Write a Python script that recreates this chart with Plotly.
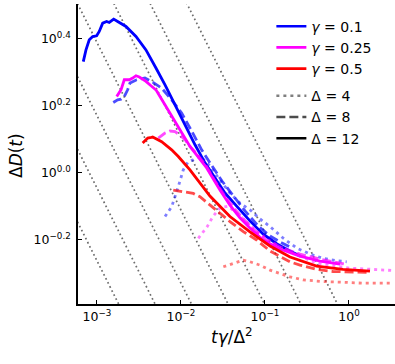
import numpy as np
import plotly.graph_objects as go

# ---- data (log10 of t*gamma/Delta^2 and log10 of Delta D) ----
b12_lx = [-3.163, -3.131, -3.092, -3.051, -3.004, -2.973, -2.932, -2.885, -2.854, -2.801, -2.754, -2.655,
          -2.536, -2.417, -2.298, -2.190, -2.071, -1.952, -1.833, -1.714, -1.595, -1.476, -1.337, -1.179,
          -1.024, -0.857, -0.702, -0.583]
b12_ly = [0.332, 0.367, 0.397, 0.407, 0.409, 0.422, 0.447, 0.452, 0.449, 0.459, 0.452, 0.437,
          0.407, 0.367, 0.313, 0.263, 0.203, 0.143, 0.084, 0.030, -0.015, -0.060, -0.099, -0.143,
          -0.182, -0.212, -0.233, -0.248]

b8_lx = [-2.806, -2.754, -2.714, -2.675, -2.635, -2.607, -2.527, -2.429, -2.349, -2.230, -2.111, -1.992,
         -1.873, -1.754, -1.631, -1.512, -1.393, -1.238, -1.083, -0.940, -0.798, -0.679]
b8_ly = [0.210, 0.218, 0.220, 0.228, 0.248, 0.268, 0.278, 0.283, 0.273, 0.253, 0.218, 0.179,
         0.125, 0.069, 0.021, -0.024, -0.063, -0.113, -0.158, -0.188, -0.209, -0.224]

b4_lx = [-2.190, -2.111, -2.032, -1.973, -1.913, -1.854, -1.774, -1.655, -1.536, -1.417, -1.298, -1.179,
         -1.060, -0.940, -0.786, -0.623, -0.464, -0.306, -0.146, -0.027]
b4_ly = [-0.130, -0.101, -0.041, 0.009, 0.034, 0.039, 0.051, 0.021, -0.021, -0.060, -0.090, -0.110,
         -0.137, -0.160, -0.194, -0.224, -0.242, -0.255, -0.262, -0.265]

m12_lx = [-2.765, -2.714, -2.675, -2.615, -2.575, -2.536, -2.496, -2.456, -2.417, -2.357, -2.298, -2.250,
          -2.131, -2.012, -1.893, -1.694, -1.536, -1.417, -1.298, -1.179, -1.024, -0.821, -0.583, -0.345,
          -0.107]
m12_ly = [0.228, 0.248, 0.278, 0.278, 0.283, 0.290, 0.286, 0.280, 0.273, 0.260, 0.248, 0.228,
          0.179, 0.128, 0.079, 0.015, -0.051, -0.096, -0.134, -0.164, -0.200, -0.227, -0.248, -0.263,
          -0.272]

m8_lx = [-2.270, -2.190, -2.131, -2.071, -2.012, -1.952, -1.893, -1.833, -1.714, -1.595, -1.476, -1.333,
         -1.179, -1.000, -0.821, -0.583, -0.345, -0.048]
m8_ly = [0.104, 0.119, 0.125, 0.123, 0.113, 0.099, 0.079, 0.063, 0.027, -0.024, -0.069, -0.116,
         -0.158, -0.197, -0.221, -0.242, -0.257, -0.272]

m4_lx = [-1.794, -1.738, -1.690, -1.619, -1.536, -1.440, -1.298, -1.119, -0.940, -0.702, -0.385, 0.012,
         0.250, 0.512]
m4_ly = [-0.195, -0.176, -0.161, -0.130, -0.104, -0.099, -0.128, -0.170, -0.203, -0.236, -0.269, -0.284,
         -0.288, -0.291]

r12_lx = [-2.456, -2.396, -2.369, -2.337, -2.230, -2.111, -2.032, -1.893, -1.655, -1.417, -1.179, -0.940,
          -0.702, -0.385, -0.071, 0.250]
r12_ly = [0.089, 0.104, 0.105, 0.107, 0.093, 0.069, 0.049, 0.009, -0.069, -0.130, -0.176, -0.218,
          -0.251, -0.278, -0.288, -0.293]

r8_lx = [-2.092, -1.973, -1.854, -1.774, -1.655, -1.536, -1.417, -1.258, -1.099, -0.940, -0.821, -0.702,
         -0.583, -0.385, -0.190, 0.012, 0.250]
r8_ly = [-0.051, -0.056, -0.061, -0.071, -0.096, -0.120, -0.145, -0.175, -0.200, -0.233, -0.250, -0.265,
         -0.275, -0.288, -0.294, -0.296, -0.297]

r4_lx = [-1.496, -1.377, -1.258, -1.179, -1.060, -0.940, -0.821, -0.702, -0.548, -0.310, -0.071, 0.167,
         0.488]
r4_ly = [-0.280, -0.270, -0.260, -0.265, -0.275, -0.290, -0.299, -0.310, -0.319, -0.324, -0.326, -0.329,
         -0.329]

# guide lines  Delta D = C * x^(-1/2)
guide_prefactors = [0.0173, 0.0285, 0.0469, 0.0775, 0.1277, 0.210, 0.347]
guide_x = [10 ** -3.4, 10 ** 0.7]

gamma_labels = ["0.1", "0.25", "0.5"]
gamma_colors = ["#0000ff", "#ff00ff", "#ff0000"]
delta_labels = ["4", "8", "12"]
delta_dash = ["3px,4px", "9px,4px", "solid"]
delta_alpha = [0.5, 0.7, 1.0]

x_ticks = [1e-3, 1e-2, 1e-1, 1]
x_ticktext = ["10<sup>−3</sup>", "10<sup>−2</sup>", "10<sup>−1</sup>", "10<sup>0</sup>"]
y_ticks = [10 ** -0.2, 1, 10 ** 0.2, 10 ** 0.4]
y_ticktext = ["10<sup>−0.2</sup>", "10<sup>0.0</sup>", "10<sup>0.2</sup>", "10<sup>0.4</sup>"]

series = {
    (0, 0): (b4_lx, b4_ly), (0, 1): (b8_lx, b8_ly), (0, 2): (b12_lx, b12_ly),
    (1, 0): (m4_lx, m4_ly), (1, 1): (m8_lx, m8_ly), (1, 2): (m12_lx, m12_ly),
    (2, 0): (r4_lx, r4_ly), (2, 1): (r8_lx, r8_ly), (2, 2): (r12_lx, r12_ly),
}

fig = go.Figure()

for c in guide_prefactors:
    gx = np.array(guide_x)
    fig.add_trace(go.Scatter(x=gx, y=c * gx ** -0.5, mode="lines",
                             line=dict(color="#6e6e6e", width=1.7, dash="1.7px,2.8px"),
                             showlegend=False, hoverinfo="skip"))

for gi in range(3):
    for di in range(3):
        lx, ly = series[(gi, di)]
        fig.add_trace(go.Scatter(
            x=10 ** np.array(lx), y=10 ** np.array(ly), mode="lines",
            line=dict(color=gamma_colors[gi], width=2.8, dash=delta_dash[di]),
            opacity=delta_alpha[di], showlegend=False))

# legend entries
for gi in range(3):
    fig.add_trace(go.Scatter(x=[None], y=[None], mode="lines",
                             line=dict(color=gamma_colors[gi], width=2.6),
                             name="<i>γ</i> = " + gamma_labels[gi], legendgroup="g"))
for di in range(3):
    fig.add_trace(go.Scatter(x=[None], y=[None], mode="lines",
                             line=dict(color="black", width=2.6, dash=delta_dash[di]),
                             opacity=delta_alpha[di],
                             name="Δ = " + delta_labels[di], legendgroup="d"))

font = "DejaVu Sans"
fig.update_layout(
    width=395, height=364,
    margin=dict(l=78, r=0, t=4, b=60, autoexpand=False),
    paper_bgcolor="white", plot_bgcolor="white",
    font=dict(family=font, size=12, color="black"),
    legend=dict(x=0.61, y=0.978, xanchor="left", yanchor="top",
                bgcolor="rgba(0,0,0,0)", font=dict(size=14, family=font),
                tracegroupgap=6, itemwidth=30),
    xaxis=dict(type="log", range=[-3.226, 0.548], showgrid=False, zeroline=False,
               automargin=False,
               showline=True, linecolor="black", linewidth=1.5,
               ticks="inside", ticklen=4, tickcolor="black",
               tickvals=x_ticks, ticktext=x_ticktext, tickfont=dict(size=12.5)),
    yaxis=dict(type="log", range=[-0.391, 0.504], showgrid=False, zeroline=False,
               automargin=False,
               showline=True, linecolor="black", linewidth=1.5,
               ticks="inside", ticklen=4, tickcolor="black", ticklabelstandoff=3,
               tickvals=y_ticks, ticktext=y_ticktext, tickfont=dict(size=12.5)),
    annotations=[
        dict(text="<i>t</i><i>γ</i>/Δ<sup>2</sup>", xref="paper", yref="paper",
             x=(232 - 78) / 317, y=-(336 - 304) / 300, xanchor="center", yanchor="middle",
             showarrow=False, font=dict(size=17)),
        dict(text="Δ<i>D</i>(<i>t</i>)", xref="paper", yref="paper",
             x=-(78 - 16) / 317, y=(304 - 156) / 300, xanchor="center", yanchor="middle",
             textangle=-90, showarrow=False, font=dict(size=17)),
    ],
)

fig.write_html("out.html", config={"displayModeBar": False},
               post_script="document.body.style.margin='0';")
